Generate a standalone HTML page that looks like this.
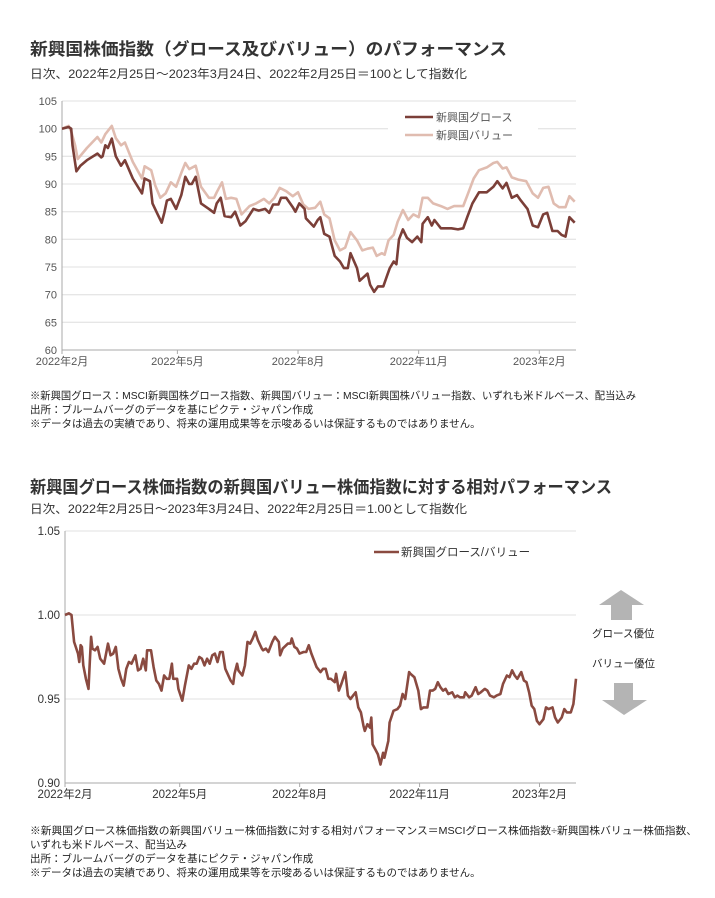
<!DOCTYPE html>
<html><head><meta charset="utf-8">
<style>
body{margin:0;background:#fff;}
svg{display:block;font-family:"Liberation Sans","Noto Sans CJK JP",sans-serif;}
.t{font-size:17px;font-weight:bold;fill:#333;}
.s{font-size:12px;fill:#333;}
.n{font-size:10.5px;fill:#222;}
.ax{font-size:11px;fill:#555;}
.ax2{font-size:11.5px;fill:#333;}
</style></head><body>
<svg id="svg" width="715" height="898" viewBox="0 0 715 898">
<text class="t" x="30" y="55" textLength="477" lengthAdjust="spacingAndGlyphs">新興国株価指数（グロース及びバリュー）のパフォーマンス</text>
<text class="s" x="30" y="78" textLength="437" lengthAdjust="spacingAndGlyphs">日次、2022年2月25日～2023年3月24日、2022年2月25日＝100として指数化</text>
<g id="c1"></g>
<text class="n" x="30" y="399" textLength="606" lengthAdjust="spacingAndGlyphs">※新興国グロース：MSCI新興国株グロース指数、新興国バリュー：MSCI新興国株バリュー指数、いずれも米ドルベース、配当込み</text>
<text class="n" x="30" y="413">出所：ブルームバーグのデータを基にピクテ・ジャパン作成</text>
<text class="n" x="30" y="427">※データは過去の実績であり、将来の運用成果等を示唆あるいは保証するものではありません。</text>
<text class="t" x="30" y="493" textLength="582" lengthAdjust="spacingAndGlyphs">新興国グロース株価指数の新興国バリュー株価指数に対する相対パフォーマンス</text>
<text class="s" x="30" y="513" textLength="437" lengthAdjust="spacingAndGlyphs">日次、2022年2月25日～2023年3月24日、2022年2月25日＝1.00として指数化</text>
<g id="c2"></g>
<polygon points="621,590 644,605 632,605 632,620 611,620 611,605 599,605" fill="#b4b4b4"/>
<text class="n" x="592" y="637">グロース優位</text>
<text class="n" x="592" y="667">バリュー優位</text>
<polygon points="614,683 633,683 633,700 647,700 624,715 602,700 614,700" fill="#b4b4b4"/>
<text class="n" x="30" y="834" textLength="667" lengthAdjust="spacingAndGlyphs">※新興国グロース株価指数の新興国バリュー株価指数に対する相対パフォーマンス＝MSCIグロース株価指数÷新興国株バリュー株価指数、</text>
<text class="n" x="30" y="848">いずれも米ドルベース、配当込み</text>
<text class="n" x="30" y="862">出所：ブルームバーグのデータを基にピクテ・ジャパン作成</text>
<text class="n" x="30" y="876">※データは過去の実績であり、将来の運用成果等を示唆あるいは保証するものではありません。</text>
</svg>
<script>
const monthLabels=["2022年2月","2022年5月","2022年8月","2022年11月","2023年2月"];
const monthDays=[0,88,180,272,364];
const yTicks1=[60,65,70,75,80,85,90,95,100,105];
const growthDays=[0,5,7,8,11,14,19,27,30,31,33,35,38,41,45,48,54,61,63,67,69,73,76,78,80,83,87,91,94,97,99,102,106,112,116,118,121,124,129,132,136,140,146,150,155,158,161,165,167,171,176,178,181,185,186,192,195,197,200,204,208,212,215,218,220,225,227,233,235,238,241,245,248,250,253,255,257,260,263,267,271,274,275,279,282,284,289,293,297,302,306,309,313,318,324,329,332,336,339,343,347,350,355,359,363,367,370,374,378,381,384,387,391];
const growthVals=[100,100.3,100,97,92.3,93.3,94.3,95.5,94.8,95,97,96.5,98.2,95,93.3,94.3,91,88.3,91,90.5,86.5,84.5,83,84.8,87,87.3,85.5,88,91.3,90,90,91.3,86.5,85.5,84.8,86.5,87.5,84.2,84,85,82.5,83.3,85.5,85.2,85.5,84.8,86.3,86.3,87.5,87.5,85.8,85,86.5,85.5,83.8,82.3,83.5,84,81,80.5,77,76,74.8,74.8,77.5,74.8,72.5,73.8,71.8,70.5,71.5,71.5,73.5,74.8,76,75.5,80,81.8,80.3,79.5,80.5,79.5,82.8,84,82.5,83.5,82,82,82,81.8,82,84,86.5,88.5,88.5,89.5,90.5,89.2,90.2,87.5,88,87,85.5,82.5,82.2,84.5,84.8,81.5,81.5,80.8,80.5,84,83];
const valueDays=[0,5,7,10,12,19,27,30,33,38,41,45,48,54,61,63,68,71,75,79,83,87,91,94,97,102,106,112,116,118,122,125,129,133,137,143,148,154,158,162,166,171,176,180,184,188,193,197,200,204,208,212,216,220,225,229,233,237,240,244,246,249,253,256,260,264,268,272,275,279,283,289,294,299,306,310,314,318,324,329,332,336,339,343,348,354,359,363,367,371,375,379,384,387,391];
const valueVals=[100,100.5,99.5,97,94.5,96.5,98.5,97.5,99,100.5,98.3,97,97.5,94,91,93.2,92.5,89.8,87.5,88.3,90.3,89.5,92,93.8,92.7,93.3,89.5,87.5,87.5,88.5,90.3,87.3,87.5,87.3,84.5,86,86.5,87.3,86.5,87.5,89.3,88.7,87.8,88.5,86.3,85.5,85.7,86.8,84.5,83.8,79.8,78,78.5,81.3,79.8,78,78.3,78.5,77,77.5,77.2,79.8,80.8,83.2,85.3,83.5,84.5,84,87.5,87.5,86.5,86,85.5,86,86,88.5,91,92.5,93,93.8,94,92.8,93,91.2,90.8,90.5,88.3,87.5,89.3,89.5,86.5,85.8,85.8,87.8,86.8];
const yTicks2=[0.90,0.95,1.00,1.05];
const yTickLabels2=["0.90","0.95","1.00","1.05"];
const ratioDays=[0,3,5,7,10,11,12,13,14,16,18,19,20,21,23,25,27,30,33,35,37,39,41,43,45,47,49,51,54,56,58,60,62,63,66,68,70,72,74,76,78,80,82,83,86,87,90,92,95,97,99,101,103,105,107,109,111,113,115,117,119,121,123,127,129,130,132,133,136,138,140,142,144,146,148,151,152,154,156,159,161,164,165,167,171,173,174,176,178,180,183,185,187,189,191,193,196,198,200,202,204,207,208,210,212,215,217,219,221,223,225,227,229,230,232,234,235,236,238,240,242,244,245,248,249,252,255,257,259,261,264,265,268,271,273,275,278,280,282,284,286,288,290,292,294,297,299,301,303,306,307,310,312,315,317,319,322,324,326,329,331,334,336,339,341,343,345,347,350,352,354,356,358,360,362,364,367,369,371,374,376,378,381,383,385,388,390,392];
const ratioVals=[1.0,1.001,1.0,0.984,0.977,0.972,0.982,0.981,0.97,0.962,0.956,0.972,0.987,0.98,0.979,0.981,0.974,0.971,0.983,0.976,0.977,0.981,0.968,0.962,0.958,0.968,0.972,0.971,0.976,0.967,0.968,0.974,0.967,0.979,0.979,0.969,0.961,0.959,0.955,0.964,0.962,0.962,0.971,0.962,0.962,0.956,0.949,0.958,0.970,0.968,0.971,0.971,0.975,0.974,0.97,0.974,0.971,0.976,0.977,0.972,0.978,0.978,0.968,0.961,0.959,0.965,0.971,0.967,0.964,0.97,0.984,0.983,0.986,0.990,0.985,0.98,0.979,0.98,0.978,0.984,0.987,0.984,0.976,0.98,0.983,0.983,0.986,0.981,0.98,0.977,0.978,0.978,0.982,0.977,0.973,0.969,0.966,0.968,0.968,0.962,0.962,0.960,0.965,0.955,0.959,0.966,0.952,0.950,0.952,0.954,0.945,0.942,0.934,0.931,0.935,0.933,0.939,0.923,0.92,0.917,0.911,0.918,0.915,0.925,0.936,0.943,0.944,0.946,0.953,0.950,0.966,0.965,0.963,0.955,0.944,0.945,0.945,0.955,0.955,0.956,0.960,0.957,0.955,0.956,0.953,0.954,0.951,0.952,0.951,0.951,0.954,0.951,0.952,0.957,0.953,0.954,0.956,0.955,0.952,0.951,0.952,0.953,0.959,0.964,0.963,0.967,0.964,0.962,0.966,0.961,0.96,0.954,0.946,0.944,0.937,0.935,0.938,0.945,0.944,0.945,0.939,0.936,0.939,0.944,0.942,0.942,0.947,0.962];

const NS='http://www.w3.org/2000/svg';
function mk(parent,tag,attrs){const e=document.createElementNS(NS,tag);for(const k in attrs)e.setAttribute(k,attrs[k]);parent.appendChild(e);return e;}

function chart(g,cfg){
  const xS=d=>cfg.x0+(d-cfg.d0)/(cfg.d1-cfg.d0)*(cfg.x1-cfg.x0);
  const yS=v=>cfg.yb+(v-cfg.v0)/(cfg.v1-cfg.v0)*(cfg.yt-cfg.yb);
  cfg.yTicks.forEach((v,i)=>{
    if(i>0){const l=mk(g,'line',{x1:cfg.x0,x2:cfg.xr,y1:yS(v),y2:yS(v),stroke:'#e6e6e6','stroke-width':1.3});
    
    }
    const t=mk(g,'text',{x:cfg.x0-5,y:yS(v)+4,'text-anchor':'end',class:cfg.axCls});
    t.textContent=cfg.yLabels[i];
    
    
  });
  const ya=mk(g,'line',{x1:cfg.x0,x2:cfg.x0,y1:cfg.yt,y2:cfg.yb,stroke:'#aaa','stroke-width':1});
  
  
  const xa=mk(g,'line',{x1:cfg.x0,x2:cfg.xr,y1:cfg.yb,y2:cfg.yb,stroke:'#aaa','stroke-width':1});
  
  
  monthDays.forEach((d,i)=>{
    const x=xS(d);
    const tk=mk(g,'line',{x1:x,x2:x,y1:cfg.yb,y2:cfg.yb+4,stroke:'#aaa'});
    
    
    const t=mk(g,'text',{x:x,y:cfg.yb+15,'text-anchor':'middle',class:cfg.axCls});
    t.textContent=monthLabels[i];
    
    
  });
  cfg.series.forEach(s=>{
    const p=mk(g,'polyline',{points:s.d.map((d,i)=>xS(d).toFixed(1)+','+yS(s.v[i]).toFixed(1)).join(' '),fill:'none',stroke:s.c,'stroke-width':2.6,'stroke-linejoin':'round'});
    
    
  });
}
const c1=document.getElementById('c1');
chart(c1,{x0:62,xr:576,x1:576,d0:0,d1:392,yb:350,yt:101,v0:60,v1:105,yTicks:yTicks1,yLabels:yTicks1.map(String),axCls:'ax',
  series:[{d:valueDays,v:valueVals,c:'#e0bcb0',name:'value-line'},{d:growthDays,v:growthVals,c:'#7b3f38',name:'growth-line'}]});
const lg=mk(c1,'g',{});


mk(lg,'rect',{x:388,y:104,width:150,height:40,fill:'#fff'});
mk(lg,'line',{x1:405,x2:433,y1:117,y2:117,stroke:'#7b3f38','stroke-width':2.6});
const lt1=mk(lg,'text',{x:436,y:121,class:'ax'});lt1.textContent='新興国グロース';


mk(lg,'line',{x1:405,x2:433,y1:135,y2:135,stroke:'#e0bcb0','stroke-width':2.6});
const lt2=mk(lg,'text',{x:436,y:139,class:'ax'});lt2.textContent='新興国バリュー';



const c2=document.getElementById('c2');
chart(c2,{x0:65,xr:576,x1:576,d0:0,d1:392,yb:783,yt:531,v0:0.90,v1:1.05,yTicks:yTicks2,yLabels:yTickLabels2,axCls:'ax2',
  series:[{d:ratioDays,v:ratioVals,c:'#8a4a40',name:'ratio-line'}]});
const lg2=mk(c2,'g',{});


mk(lg2,'line',{x1:374,x2:399,y1:552,y2:552,stroke:'#8a4a40','stroke-width':2.6});
const lt3=mk(lg2,'text',{x:401,y:556,class:'ax2'});lt3.textContent='新興国グロース/バリュー';


</script>
</body></html>
